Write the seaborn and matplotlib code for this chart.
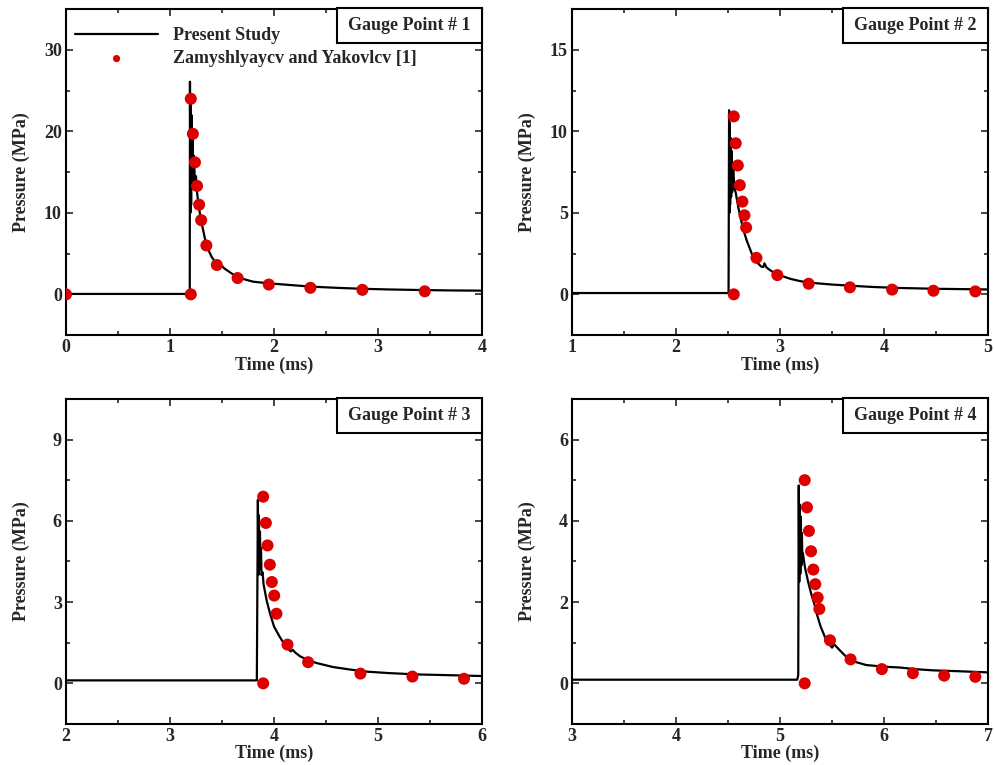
import pandas as pd
import matplotlib.pyplot as plt
import seaborn as sns
from matplotlib.patches import Rectangle

# --- simulated pressure histories (Present Study) ---
t1 = [0, 1.19, 1.192, 1.196, 1.199, 1.203, 1.207, 1.211, 1.216, 1.222, 1.23, 1.24, 1.25, 1.26,
      1.28, 1.3, 1.35, 1.4, 1.45, 1.48, 1.5, 1.52, 1.6, 1.7, 1.8, 1.95, 2.1, 2.35, 2.6, 2.85,
      3.1, 3.45, 3.7, 4.0]
p1 = [0.05, 0.05, 26.1, 10.0, 24.0, 11.0, 22.0, 13.0, 20.0, 14.0, 17.0, 13.5, 14.5, 12.5,
      10.5, 9.0, 6.0, 4.6, 3.7, 3.4, 3.5, 3.2, 2.5, 1.9, 1.55, 1.35, 1.2, 0.95, 0.8, 0.68,
      0.6, 0.52, 0.48, 0.45]

t2 = [1, 2.505, 2.51, 2.513, 2.517, 2.52, 2.525, 2.53, 2.535, 2.54, 2.55, 2.56, 2.575, 2.6,
      2.62, 2.65, 2.68, 2.71, 2.74, 2.78, 2.82, 2.84, 2.85, 2.87, 2.9, 2.95, 3.03, 3.1, 3.2,
      3.35, 3.5, 3.7, 3.9, 4.15, 4.5, 5.0]
p2 = [0.08, 0.08, 11.3, 5.0, 10.5, 5.5, 9.6, 6.0, 8.8, 6.3, 7.8, 6.6, 6.2, 5.3,
      4.7, 3.9, 3.3, 2.8, 2.3, 1.95, 1.7, 1.68, 1.9, 1.65, 1.5, 1.3, 1.1, 0.95, 0.8,
      0.68, 0.6, 0.52, 0.45, 0.39, 0.34, 0.3]

t3 = [2, 3.835, 3.845, 3.85, 3.855, 3.86, 3.865, 3.87, 3.875, 3.88, 3.89, 3.9, 3.93, 3.96,
      4.0, 4.05, 4.09, 4.13, 4.16, 4.18, 4.2, 4.25, 4.33, 4.41, 4.57, 4.75, 4.9, 5.1, 5.37,
      5.7, 6.0]
p3 = [0.11, 0.11, 6.77, 4.0, 6.2, 4.2, 5.6, 4.3, 5.0, 4.0, 4.1, 3.65, 3.05, 2.6,
      2.1, 1.75, 1.5, 1.3, 1.18, 1.24, 1.15, 1.0, 0.85, 0.75, 0.6, 0.5, 0.43, 0.38, 0.33,
      0.3, 0.27]

t4 = [3, 5.165, 5.175, 5.18, 5.185, 5.19, 5.195, 5.2, 5.205, 5.21, 5.215, 5.22, 5.24, 5.27,
      5.3, 5.33, 5.36, 5.39, 5.43, 5.46, 5.5, 5.52, 5.55, 5.61, 5.66, 5.72, 5.83, 6.0, 6.15,
      6.3, 6.47, 6.7, 7.0]
p4 = [0.09, 0.09, 0.2, 4.87, 2.5, 4.4, 2.7, 4.1, 2.9, 3.7, 3.0, 3.2, 2.85, 2.5,
      2.2, 1.95, 1.65, 1.4, 1.15, 1.0, 0.88, 0.96, 0.88, 0.72, 0.6, 0.53, 0.45, 0.41, 0.39,
      0.35, 0.32, 0.3, 0.27]

# --- reference data (Zamyshlyayev and Yakovlev) ---
e1_t = [0, 1.2, 1.2, 1.22, 1.24, 1.26, 1.28, 1.3, 1.35, 1.45, 1.65, 1.95, 2.35, 2.85, 3.45]
e1_p = [0, 0, 24.0, 19.7, 16.2, 13.3, 11.0, 9.1, 6.0, 3.6, 2.0, 1.2, 0.8, 0.55, 0.37]

e2_t = [2.555, 2.555, 2.574, 2.594, 2.613, 2.638, 2.658, 2.674, 2.773, 2.974, 3.275, 3.672,
        4.078, 4.475, 4.878]
e2_p = [0, 10.92, 9.27, 7.91, 6.70, 5.69, 4.85, 4.10, 2.24, 1.18, 0.65, 0.43, 0.29, 0.22, 0.18]

e3_t = [3.896, 3.896, 3.922, 3.938, 3.960, 3.979, 4.002, 4.024, 4.130, 4.328, 4.831, 5.331, 5.827]
e3_p = [0, 6.89, 5.92, 5.09, 4.38, 3.74, 3.24, 2.57, 1.43, 0.78, 0.36, 0.25, 0.17]

e4_t = [5.237, 5.237, 5.259, 5.278, 5.298, 5.32, 5.339, 5.362, 5.378, 5.48, 5.678, 5.979,
        6.277, 6.578, 6.878]
e4_p = [0, 5.0, 4.33, 3.75, 3.25, 2.80, 2.44, 2.11, 1.83, 1.06, 0.59, 0.35, 0.25, 0.19, 0.16]

gauges = ["Gauge Point # 1", "Gauge Point # 2", "Gauge Point # 3", "Gauge Point # 4"]
xlims = [(0, 4), (1, 5), (2, 6), (3, 7)]
ylims = [(-5, 35), (-2.5, 17.5), (-1.5, 10.5), (-1, 7)]
ysteps = [10, 5, 3, 2]

sim = [(t1, p1), (t2, p2), (t3, p3), (t4, p4)]
exp = [(e1_t, e1_p), (e2_t, e2_p), (e3_t, e3_p), (e4_t, e4_p)]

sns.set_theme(style="ticks")
plt.rcParams['font.family'] = ['Liberation Serif', 'DejaVu Serif']
plt.rcParams['font.weight'] = 'bold'
plt.rcParams['axes.labelweight'] = 'bold'

fig = plt.figure(figsize=(9.94, 7.65), dpi=100)
positions = [
    [0.0664, 0.562, 0.4185, 0.426],
    [0.5755, 0.562, 0.4185, 0.426],
    [0.0664, 0.0536, 0.4185, 0.425],
    [0.5755, 0.0536, 0.4185, 0.425],
]

red = "#dd0000"
fs = 13

for i in range(4):
    ax = fig.add_axes(positions[i])
    df_sim = pd.DataFrame({"t": sim[i][0], "p": sim[i][1]})
    df_exp = pd.DataFrame({"t": exp[i][0], "p": exp[i][1]})

    sns.lineplot(data=df_sim, x="t", y="p", sort=False, estimator=None,
                 color="black", linewidth=1.6, ax=ax, label="Present Study")
    sns.scatterplot(data=df_exp, x="t", y="p", color=red, s=75, edgecolor="none",
                    ax=ax, label="Zamyshlyaycv and Yakovlcv [1]", zorder=3)

    ax.set_xlim(*xlims[i])
    ax.set_ylim(*ylims[i])
    lo, hi = xlims[i]
    ax.set_xticks(list(range(lo, hi + 1)))
    ax.set_xticks([lo + 0.5 + k for k in range(hi - lo)], minor=True)
    st = ysteps[i]
    ax.set_yticks([k * st for k in range(0, int(ylims[i][1] // st) + 1)])
    ax.set_yticks([k * st + st / 2 for k in range(-1, int(ylims[i][1] // st) + 1)
                   if ylims[i][0] < k * st + st / 2 < ylims[i][1]], minor=True)

    ax.tick_params(which="both", direction="in", top=True, right=True, width=1.2,
                   labelsize=fs, pad=3)
    ax.tick_params(which="major", length=5)
    ax.tick_params(which="minor", length=3)
    for lab in ax.get_xticklabels() + ax.get_yticklabels():
        lab.set_fontweight("bold")
    for sp in ax.spines.values():
        sp.set_linewidth(1.5)
        sp.set_color("black")

    ax.set_xlabel("Time (ms)", fontsize=fs, fontweight="bold", labelpad=0)
    ax.set_ylabel("Pressure (MPa)", fontsize=fs, fontweight="bold")
    ax.yaxis.set_label_coords(-0.087, 0.5)

    # gauge label box
    ax.add_patch(Rectangle((0.651, 0.895), 0.349, 0.108, transform=ax.transAxes,
                           fill=True, facecolor="white", edgecolor="black",
                           linewidth=1.5, clip_on=False, zorder=5))
    ax.text(0.8255, 0.949, gauges[i], transform=ax.transAxes, ha="center", va="center",
            fontsize=fs, fontweight="bold", zorder=6)

    if i == 0:
        ax.legend(loc="upper left", bbox_to_anchor=(0.0, 0.973), frameon=False,
                  handlelength=4.6, handletextpad=0.8, labelspacing=0.35,
                  borderpad=0, markerscale=0.6, prop={"weight": "bold", "size": fs})
    else:
        ax.get_legend().remove()

fig.savefig("out.png", dpi=100)
